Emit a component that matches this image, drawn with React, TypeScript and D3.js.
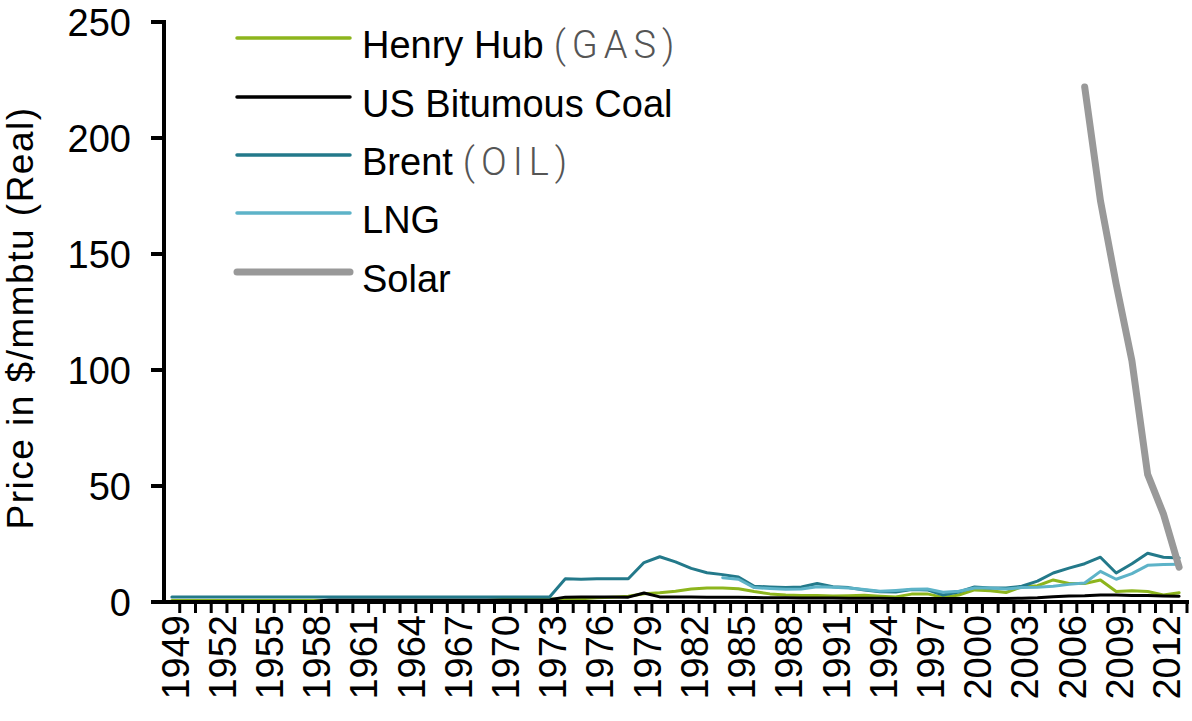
import React from "react";
import * as d3 from "d3";

const years: number[] = d3.range(1949, 2014);
const tickYears: number[] = [1949, 1952, 1955, 1958, 1961, 1964, 1967, 1970, 1973, 1976, 1979, 1982, 1985, 1988, 1991, 1994, 1997, 2000, 2003, 2006, 2009, 2012];
const yTicks: number[] = [0, 50, 100, 150, 200, 250];

// 1949..2013
const henryHub: (number | null)[] = [
  0.7, 0.7, 0.7, 0.7, 0.7, 0.7, 0.7, 0.7, 0.7, 0.7,
  0.6, 0.6, 0.6, 0.6, 0.6, 0.6, 0.6, 0.6, 0.6, 0.6, 0.6,
  1.1, 1.2, 1.2, 1.3, 1.2, 1.4, 1.8, 2.1, 2.5,
  3.6, 4.0, 4.6, 5.6, 6.0, 6.0, 5.7, 4.5, 3.5, 3.0,
  2.8, 2.8, 2.6, 2.7, 2.9, 2.5, 2.2, 3.4, 3.5, 2.0,
  3.0, 5.2, 4.8, 4.1, 6.5, 7.0, 9.5, 8.0, 8.0, 9.5,
  4.5, 4.8, 4.5, 3.0, 4.0,
];

const usCoal: (number | null)[] = [
  0.2, 0.2, 0.2, 0.2, 0.2, 0.2, 0.2, 0.2, 0.2, 0.2,
  0.9, 0.9, 0.9, 0.9, 0.9, 0.9, 0.9, 0.9, 0.9, 0.9, 0.9,
  0.9, 0.9, 0.9, 1.0, 2.1, 2.2, 2.2, 2.2, 2.1,
  3.9, 2.2, 2.2, 2.2, 2.1, 2.0, 2.0, 1.9, 1.8, 1.8,
  1.7, 1.7, 1.7, 1.6, 1.6, 1.6, 1.5, 1.5, 1.5, 1.5,
  1.5, 1.5, 1.5, 1.5, 1.6, 1.8, 2.3, 2.6, 2.7, 3.0,
  3.0, 2.8, 2.8, 2.6, 2.5,
];

const brent: (number | null)[] = [
  2.2, 2.2, 2.2, 2.2, 2.2, 2.2, 2.2, 2.2, 2.2, 2.2,
  2.2, 2.2, 2.2, 2.2, 2.2, 2.2, 2.2, 2.2, 2.2, 2.2, 2.2, 2.2, 2.2, 2.2, 2.2,
  10.0, 9.8, 10.0, 10.0, 10.0,
  17.0, 19.5, 17.3, 14.5, 12.6, 11.8, 10.8, 6.8, 6.5, 6.2,
  6.5, 8.0, 6.6, 6.2, 5.2, 4.4, 4.3, 5.4, 5.2, 3.0,
  4.3, 6.5, 6.0, 6.0, 6.8, 9.0, 12.5, 14.6, 16.5, 19.3,
  12.5, 16.5, 21.0, 19.3, 19.0,
];

const lng: (number | null)[] = [
  null, null, null, null, null, null, null, null, null, null,
  null, null, null, null, null, null, null, null, null, null,
  null, null, null, null, null, null, null, null, null, null,
  null, null, null, null, null,
  10.5, 9.8, 6.2, 5.8, 5.5,
  5.6, 6.6, 6.4, 6.0, 5.4, 4.6, 5.0, 5.5, 5.6, 4.2,
  4.6, 6.0, 6.0, 5.6, 6.2, 6.4, 6.8, 7.6, 8.2, 13.2,
  9.8, 12.2, 15.8, 16.2, 16.3,
];

const solar: (number | null)[] = [
  null, null, null, null, null, null, null, null, null, null,
  null, null, null, null, null, null, null, null, null, null,
  null, null, null, null, null, null, null, null, null, null,
  null, null, null, null, null, null, null, null, null, null,
  null, null, null, null, null, null, null, null, null, null,
  null, null, null, null, null, null, null, null,
  222, 173, 137, 104, 55, 38, 15,
];

const seriesNames = ["Henry Hub", "US Bitumous Coal", "Brent", "LNG", "Solar"];
const seriesSuffix = ["(GAS)", "", "(OIL)", "", ""];
const seriesColors = ["#8db51d", "#000000", "#23798a", "#5db3c8", "#999999"];
const seriesWidths = [3, 3, 3, 3, 7];
const seriesData = [henryHub, usCoal, brent, lng, solar];

const W = 1192;
const H = 721;
const FONT = "'Liberation Sans', Arial, Helvetica, sans-serif";

export default function App() {
  const x0 = 164;
  const x1 = 1187;
  const yTop = 22;
  const yBottom = 602;

  const x = d3.scaleBand<number>().domain(years).range([x0, x1]).paddingInner(0).paddingOuter(0);
  const y = d3.scaleLinear().domain([0, 250]).range([yBottom, yTop]);
  const cx = (yr: number) => (x(yr) as number) + x.bandwidth() / 2;

  const line = d3
    .line<number | null>()
    .defined((d) => d !== null)
    .x((_, i) => cx(years[i]))
    .y((d) => y(d as number));

  const boundaries = years.map((yr) => (x(yr) as number) + x.bandwidth());

  const legendLineY = [38, 97, 155, 213, 272];

  return (
    <div style={{ position: "absolute", left: 0, top: 0 }}>
      <svg width={W} height={H} style={{ display: "block", background: "#fff" }} fontFamily={FONT}>
        <rect x={0} y={0} width={W} height={H} fill="#fff" />
        {/* y axis title */}
        <text
          transform={`translate(${33},${318}) rotate(-90)`}
          textAnchor="middle"
          fontSize={37}
          letterSpacing={1.5}
          fill="#000"
        >
          Price in $/mmbtu (Real)
        </text>
        {/* y ticks */}
        {yTicks.map((t) => (
          <g key={t}>
            <line x1={x0 - 13} x2={x0} y1={y(t)} y2={y(t)} stroke="#000" strokeWidth={4} />
            <text x={131} y={y(t)} dy="0.36em" textAnchor="end" fontSize={38} fill="#000">
              {t}
            </text>
          </g>
        ))}
        {/* series lines */}
        {seriesData.map((s, i) => (
          <path
            key={seriesNames[i]}
            d={line(s) || ""}
            fill="none"
            stroke={seriesColors[i]}
            strokeWidth={seriesWidths[i]}
            strokeLinejoin="round"
            strokeLinecap="round"
          />
        ))}
        {/* axes */}
        <line x1={x0} x2={x0} y1={yTop - 2} y2={yBottom + 2} stroke="#000" strokeWidth={4} />
        <line x1={x0 - 13} x2={x1 + 2} y1={yBottom} y2={yBottom} stroke="#000" strokeWidth={4} />
        {boundaries.map((bx, i) => (
          <line key={i} x1={bx} x2={bx} y1={yBottom} y2={yBottom + 11} stroke="#000" strokeWidth={3} />
        ))}
        {tickYears.map((yr) => (
          <text
            key={yr}
            transform={`translate(${cx(yr) + 3},${615}) rotate(-90)`}
            dy="0.36em"
            textAnchor="end"
            fontSize={38}
            fill="#000"
          >
            {yr}
          </text>
        ))}
        {/* legend */}
        {seriesNames.map((name, i) => (
          <g key={name}>
            <line
              x1={237}
              x2={350}
              y1={legendLineY[i]}
              y2={legendLineY[i]}
              stroke={seriesColors[i]}
              strokeWidth={seriesWidths[i] === 7 ? 7 : 3.5}
              strokeLinecap="round"
            />
            <text x={362} y={legendLineY[i]} fontSize={38} fill="#000">
              <tspan dy="0.52em">{name}</tspan>
              {seriesSuffix[i] ? (
                <tspan fill="#555" letterSpacing={6} fontWeight={300} dx="10" fontFamily="Roboto, 'Liberation Sans', Arial">
                  {seriesSuffix[i]}
                </tspan>
              ) : null}
            </text>
          </g>
        ))}
      </svg>
    </div>
  );
}
